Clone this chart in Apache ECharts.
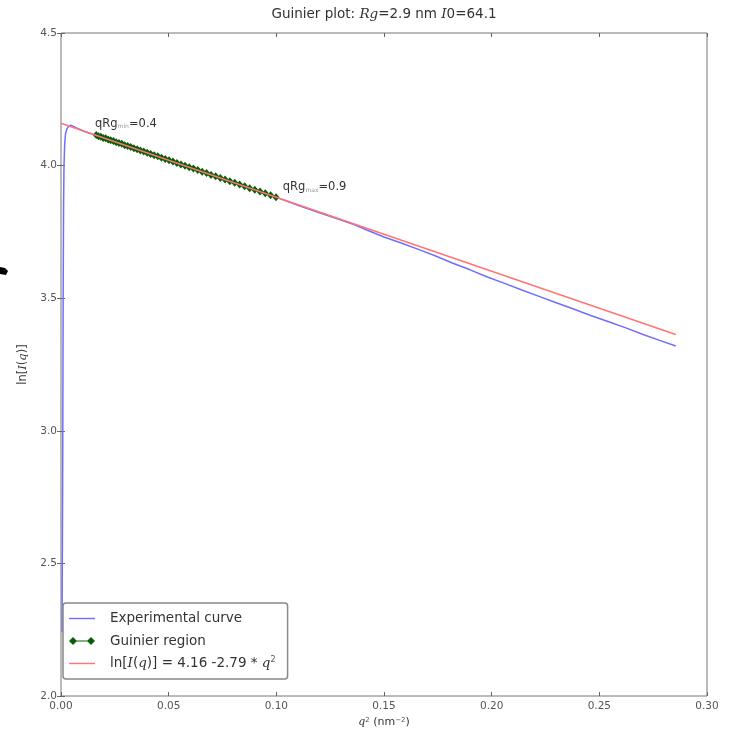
<!DOCTYPE html>
<html>
<head>
<meta charset="utf-8">
<title>Guinier plot</title>
<script src="https://cdn.jsdelivr.net/npm/echarts@6/dist/echarts.min.js"></script>
<style>
  html, body { margin: 0; padding: 0; background: #fff; }
  #chart { width: 729px; height: 735px; }
</style>
</head>
<body>
<div id="chart"></div>
<script>
// 实验曲线：q² 很小时的上升段
const headQ2 = [0.0005, 0.0008, 0.0010, 0.0012, 0.0014, 0.0017, 0.0021, 0.0027, 0.0035, 0.0045, 0.0058, 0.0072, 0.0090, 0.0110, 0.0130, 0.0150];
const headLn = [2.24, 2.90, 3.50, 3.85, 4.00, 4.08, 4.12, 4.138, 4.148, 4.152, 4.148, 4.142, 4.135, 4.128, 4.123, 4.117];

// Guinier 区间 (qRg 0.4 ~ 0.9)
const guinierQ2 = [0.01638, 0.01742, 0.01850, 0.01960, 0.02074, 0.02190, 0.02310, 0.02434, 0.02560, 0.02690,
  0.02822, 0.02958, 0.03098, 0.03240, 0.03386, 0.03534, 0.03686, 0.03842, 0.04000, 0.04162,
  0.04326, 0.04494, 0.04666, 0.04840, 0.05018, 0.05198, 0.05382, 0.05570, 0.05760, 0.05954,
  0.06150, 0.06350, 0.06554, 0.06760, 0.06970, 0.07182, 0.07398, 0.07618, 0.07840, 0.08066,
  0.08294, 0.08526, 0.08762, 0.09000, 0.09242, 0.09486, 0.09734, 0.09986];
const guinierLn = [4.115, 4.111, 4.109, 4.104, 4.103, 4.098, 4.096, 4.093, 4.088, 4.085,
  4.082, 4.077, 4.074, 4.070, 4.065, 4.062, 4.057, 4.053, 4.048, 4.044,
  4.039, 4.035, 4.030, 4.025, 4.020, 4.015, 4.010, 4.004, 3.999, 3.994,
  3.989, 3.983, 3.977, 3.972, 3.965, 3.960, 3.953, 3.948, 3.941, 3.935,
  3.929, 3.922, 3.915, 3.909, 3.902, 3.896, 3.888, 3.881];

// 实验曲线：Guinier 区间之后
const tailQ2 = [0.105, 0.112, 0.120, 0.128, 0.135, 0.142, 0.150, 0.158, 0.166, 0.174, 0.182, 0.190,
  0.198, 0.206, 0.214, 0.222, 0.230, 0.238, 0.246, 0.254, 0.262, 0.270, 0.278, 0.2855];
const tailLn = [3.865, 3.845, 3.822, 3.800, 3.781, 3.757, 3.731, 3.708, 3.684, 3.659, 3.632, 3.607,
  3.580, 3.556, 3.531, 3.507, 3.483, 3.459, 3.435, 3.412, 3.389, 3.364, 3.341, 3.320];

// 拟合直线 ln[I(q)] = 4.16 - 2.79 q²
const fitQ2 = [0, 0.2855];
const fitLn = [4.16, 3.363];

// 坐标轴
const xTicks = [0, 0.05, 0.10, 0.15, 0.20, 0.25, 0.30];
const yTicks = [2.0, 2.5, 3.0, 3.5, 4.0, 4.5];

// 标注：[q², lnI, 下标, 值]
const notes = [
  [0.0158, 4.158, "min", "0.4"],
  [0.1030, 3.918, "max", "0.9"],
];

const FONT = "DejaVu Sans";
const EXP = "Experimental curve";
const GUI = "Guinier region";
const FIT = "ln[I(q)] = 4.16 -2.79 * q²";

// 图例图标（路径的外框就是图标框 26x8）
const ICON_LINE = "path://M0,3.3H26V4.7H0Z";
const ICON_DIAMOND = "path://M0,4L4,0L8,4L4,8ZM18,4L22,0L26,4L22,8ZM4,3.4H22V4.6H4Z";

function zip(xs, ys) {
  return xs.map((x, i) => [x, ys[i]]);
}

const expData = zip(headQ2, headLn)
  .concat(zip(guinierQ2, guinierLn))
  .concat(zip(tailQ2, tailLn));

const chart = echarts.init(document.getElementById("chart"), null, { renderer: "canvas" });

function xAxisOf(pos, withLabels) {
  return {
    type: "value",
    position: pos,
    min: xTicks[0],
    max: xTicks[xTicks.length - 1],
    interval: xTicks[1] - xTicks[0],
    axisLine: { show: false },
    axisTick: { show: true, inside: true, length: 4, lineStyle: { color: "#666" } },
    axisLabel: {
      show: withLabels,
      margin: 5,
      color: "#555",
      fontSize: 10.5,
      fontFamily: FONT,
      formatter: (v) => v.toFixed(2),
    },
    splitLine: { show: false },
  };
}

function yAxisOf(pos, withLabels) {
  return {
    type: "value",
    position: pos,
    min: yTicks[0],
    max: yTicks[yTicks.length - 1],
    interval: yTicks[1] - yTicks[0],
    axisLine: { show: false },
    axisTick: { show: true, inside: true, length: 4, lineStyle: { color: "#666" } },
    axisLabel: {
      show: withLabels,
      margin: 4,
      color: "#555",
      fontSize: 10.5,
      fontFamily: FONT,
      formatter: (v) => v.toFixed(1),
    },
    splitLine: { show: false },
  };
}

const xMain = xAxisOf("bottom", true);
xMain.name = "{i|q}{sup|2} {t|(nm}{sup|−2}{t|)}";
xMain.nameLocation = "middle";
xMain.nameGap = 19;
xMain.nameTextStyle = {
  fontSize: 11, fontFamily: FONT, color: "#333",
  rich: {
    t: { fontSize: 11, fontFamily: FONT, color: "#333" },
    i: { fontSize: 11, fontFamily: "DejaVu Serif", color: "#333", fontStyle: "italic" },
    sup: { fontSize: 7, fontFamily: FONT, color: "#555", verticalAlign: "top" },
  },
};

const yMain = yAxisOf("left", true);
yMain.name = "{t|ln[}{i|I}{t|(}{i|q}{t|)]}";
yMain.nameLocation = "middle";
yMain.nameGap = 29;
yMain.nameTextStyle = {
  fontSize: 11.5, fontFamily: FONT, color: "#333",
  rich: {
    t: { fontSize: 11.5, fontFamily: FONT, color: "#333" },
    i: { fontSize: 11.5, fontFamily: "DejaVu Serif", color: "#333", fontStyle: "italic" },
  },
};

const richBase = {
  t: { fontSize: 11.5, fontFamily: FONT, color: "#333" },
  s: { fontSize: 6, fontFamily: FONT, color: "#999", verticalAlign: "bottom" },
};

chart.setOption({
  animation: false,
  backgroundColor: "#fff",
  grid: {
    left: 61, right: 22, top: 33, bottom: 39,
    show: true, borderColor: "#777", borderWidth: 1, backgroundColor: "transparent",
  },
  graphic: [
    {
      type: "text",
      x: 384,
      y: 14,
      style: {
        text: "{t|Guinier plot: }{i|Rg}{t|=2.9 nm }{i|I}{t|0=64.1}",
        align: "center",
        verticalAlign: "middle",
        rich: {
          t: { fontSize: 13.5, fontFamily: FONT, fill: "#333" },
          i: { fontSize: 13.5, fontFamily: "DejaVu Serif", fontStyle: "italic", fill: "#333" },
        },
      },
    },
    {
      // 左侧残留的黑色笔迹
      type: "polygon",
      shape: { points: [[0, 267], [5, 268], [8, 271], [6, 275], [0, 274]] },
      style: { fill: "#000" },
    },
  ],
  legend: {
    orient: "vertical",
    left: 63,
    top: 603,
    padding: [8, 12, 8, 6],
    itemWidth: 26,
    itemHeight: 8,
    itemGap: 7.5,
    borderColor: "#888",
    borderWidth: 1.5,
    borderRadius: 3,
    backgroundColor: "#fff",
    textStyle: {
      fontSize: 13.5, fontFamily: FONT, color: "#333", lineHeight: 15, padding: [0, 0, 0, 10],
      rich: {
        t: { fontSize: 13.5, fontFamily: FONT, color: "#333" },
        i: { fontSize: 13.5, fontFamily: "DejaVu Serif", fontStyle: "italic", color: "#333" },
        sup: { fontSize: 8, fontFamily: FONT, color: "#555", verticalAlign: "top" },
      },
    },
    formatter: (name) =>
      name === FIT ? "{t|ln[}{i|I}{t|(}{i|q}{t|)] = 4.16 -2.79 * }{i|q}{sup|2}" : "{t|" + name + "}",
    data: [
      { name: EXP, icon: ICON_LINE },
      { name: GUI, icon: ICON_DIAMOND },
      { name: FIT, icon: ICON_LINE },
    ],
  },
  xAxis: [xMain, xAxisOf("top", false)],
  yAxis: [yMain, yAxisOf("right", false)],
  series: [
    {
      name: EXP,
      type: "line",
      data: expData,
      symbol: "none",
      lineStyle: { color: "#6e6eff", width: 1.5 },
      itemStyle: { color: "#6e6eff" },
      z: 2,
    },
    {
      name: GUI,
      type: "line",
      data: zip(guinierQ2, guinierLn),
      symbol: "diamond",
      symbolSize: [7, 8],
      showSymbol: true,
      lineStyle: { color: "#1a7a1a", width: 1.2 },
      itemStyle: { color: "#0a5e0a" },
      z: 3,
    },
    {
      name: FIT,
      type: "line",
      data: zip(fitQ2, fitLn),
      symbol: "none",
      lineStyle: { color: "#ff7474", width: 1.5 },
      itemStyle: { color: "#ff7474" },
      z: 4,
      markPoint: {
        symbol: "circle",
        symbolSize: 0,
        silent: true,
        data: notes.map((n) => ({
          coord: [n[0], n[1]],
          label: {
            show: true,
            position: "right",
            distance: 0,
            formatter: "{t|qRg}{s|" + n[2] + "}{t|=" + n[3] + "}",
            rich: richBase,
          },
        })),
      },
    },
  ],
});
</script>
</body>
</html>
